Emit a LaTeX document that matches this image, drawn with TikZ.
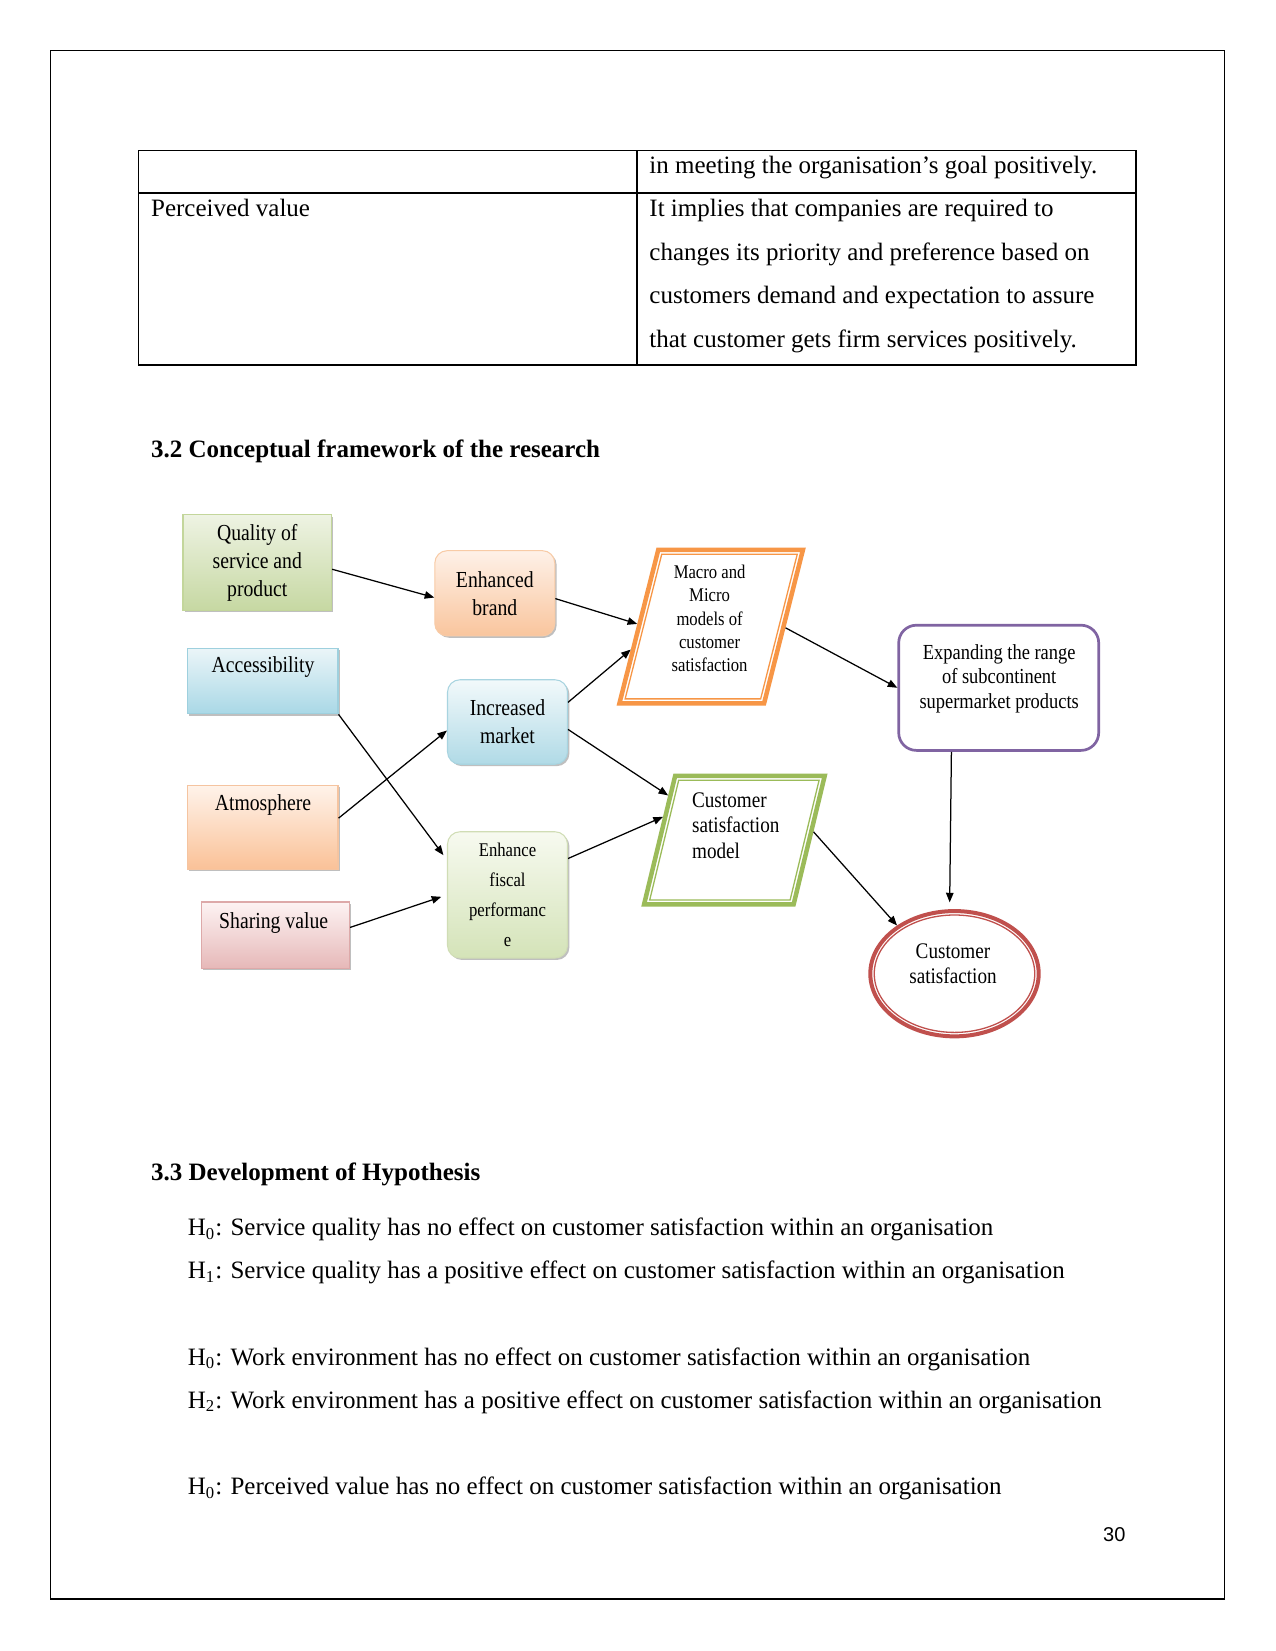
\documentclass[tikz,border=0pt]{standalone}
\usepackage{fontspec}
\setmainfont{Liberation Serif}
\newfontfamily\dfont[FakeStretch=0.86]{Liberation Serif}
\newfontfamily\pnfont{Liberation Sans}
\usetikzlibrary{shapes.geometric,arrows.meta,shadows}
\newcommand\PX{*0.48pt}
\definecolor{qtop}{HTML}{EEF3E3}\definecolor{qbot}{HTML}{C6D8A2}\definecolor{qbrd}{HTML}{C3D69B}
\definecolor{btop}{HTML}{FEF1E8}\definecolor{bbot}{HTML}{F9C59D}\definecolor{bbrd}{HTML}{F8CBA6}
\definecolor{atop}{HTML}{EAF5F8}\definecolor{abot}{HTML}{A9D8E6}\definecolor{abrd}{HTML}{9ED0DE}
\definecolor{mtop}{HTML}{F2F9FB}\definecolor{mbot}{HTML}{B0DAE6}\definecolor{mbrd}{HTML}{A8D4E0}
\definecolor{ttop}{HTML}{FFF3EA}\definecolor{tbot}{HTML}{FAC197}\definecolor{tbrd}{HTML}{F5C4A0}
\definecolor{stop}{HTML}{FDF3F3}\definecolor{sbot}{HTML}{E6B8B8}\definecolor{sbrd}{HTML}{DDA9A9}
\definecolor{ftop}{HTML}{F7FAF0}\definecolor{fbot}{HTML}{D4E3B8}\definecolor{fbrd}{HTML}{D0DDB5}
\definecolor{orangec}{HTML}{F79646}
\definecolor{greenc}{HTML}{9BBB59}
\definecolor{purplec}{HTML}{8064A2}
\definecolor{redc}{HTML}{C0504D}
\begin{document}
\begin{tikzpicture}[x=0.48pt,y=-0.48pt,
  bodytext/.style={font=\fontsize{12}{14}\selectfont, inner sep=0, anchor=base west},
  headtext/.style={font=\bfseries\fontsize{12}{14}\selectfont, inner sep=0, anchor=base west},
  boxbase/.style={inner sep=0, align=center, line width=0.5pt,
    drop shadow={shadow xshift=0.9pt, shadow yshift=-0.9pt, opacity=0.25, fill=black}},
  roundbox/.style={boxbase, rounded corners=6pt},
  dtext/.style={font=\dfont\fontsize{11}{13.4}\selectfont, align=center, inner sep=0},
  arr/.style={-{Triangle[length=4.6pt,width=3.6pt]}, line width=0.6pt, black},
  thickpara/.style={trapezium, inner sep=0, minimum width=0pt, minimum height=0pt, line width=4.5\PX},
  thinpara/.style={trapezium, inner sep=0, minimum width=0pt, minimum height=0pt, line width=1.3\PX},
]
\path[use as bounding box, fill=white] (0,0) rectangle (1275,1651);
% page frame
\draw[line width=0.7pt] (50.7,50.7) rectangle (1224.3,1599);

% table
\draw[line width=0.5pt] (138.5,150.5) rectangle (1136,365);
\draw[line width=0.5pt] (138.5,193) -- (1136,193);
\draw[line width=0.5pt] (637,150.5) -- (637,365);
\node[bodytext] (t1) at (649,174) {in meeting the organisation’s goal positively.};
\node[bodytext] (t2) at (150.7,216.7) {Perceived value};
\node[bodytext] (t3) at (649,216.7) {It implies that companies are required to};
\node[bodytext] (t4) at (649,260.9) {changes its priority and preference based on};
\node[bodytext] (t5) at (649,304) {customers demand and expectation to assure};
\node[bodytext] (t6) at (649,347.2) {that customer gets firm services positively.};

% heading
\node[headtext] (h32) at (150.7,457) {3.2 Conceptual framework of the research};

% left boxes
\node[boxbase, dtext, top color=qtop, bottom color=qbot, draw=qbrd,
  minimum width=148.6\PX, minimum height=95.8\PX] (qual) at (257.3,562.7) {Quality of\\service and\\product};
\node[boxbase, top color=atop, bottom color=abot, draw=abrd,
  minimum width=150.6\PX, minimum height=65.3\PX] (acc) at (262.7,681.2) {};
\node[dtext] (accT) at (263,667.5) {Accessibility};
\node[boxbase, top color=ttop, bottom color=tbot, draw=tbrd,
  minimum width=150.6\PX, minimum height=84.2\PX] (atm) at (262.7,827.5) {};
\node[dtext] (atmT) at (263,805.4) {Atmosphere};
\node[boxbase, top color=stop, bottom color=sbot, draw=sbrd,
  minimum width=148.5\PX, minimum height=66.6\PX] (share) at (275.3,935.3) {};
\node[dtext] (shareT) at (273.7,923.3) {Sharing value};

% middle rounded boxes
\node[roundbox, dtext, top color=btop, bottom color=bbot, draw=bbrd,
  minimum width=120\PX, minimum height=85.3\PX] (brand) at (494.8,593.3) {Enhanced\\brand};
\node[roundbox, dtext, top color=mtop, bottom color=mbot, draw=mbrd,
  minimum width=120\PX, minimum height=84.5\PX] (mkt) at (507.5,722) {Increased\\market};
\node[roundbox, dtext, font=\dfont\fontsize{9.3}{14.5}\selectfont, top color=ftop, bottom color=fbot, draw=fbrd,
  minimum width=120\PX, minimum height=126.3\PX] (fisc) at (507.5,894.9) {Enhance\\fiscal\\performanc\\e};

% parallelograms
\node[thickpara, draw=orangec, trapezium left angle=75.8, trapezium right angle=104.2,
  inner xsep=52.9\PX, inner ysep=76.75\PX] (macro) at (711.2,626.5) {};
\node[thinpara, draw=orangec, trapezium left angle=75.8, trapezium right angle=104.2,
  inner xsep=49.45\PX, inner ysep=72.35\PX] (macroin) at (macro.center) {};
\node[dtext, font=\dfont\fontsize{9.3}{11.2}\selectfont] (macroT) at (709.6,618.6)
  {Macro and\\Micro\\models of\\customer\\satisfaction};

\node[thickpara, draw=greenc, trapezium left angle=76.4, trapezium right angle=103.6,
  inner xsep=59.2\PX, inner ysep=64.35\PX] (csm) at (734.4,840.1) {};
\node[thinpara, draw=greenc, trapezium left angle=76.4, trapezium right angle=103.6,
  inner xsep=55.7\PX, inner ysep=59.95\PX] (csmin) at (csm.center) {};
\node[dtext, align=left, anchor=west, font=\dfont\fontsize{10.7}{12.2}\selectfont] (csmT) at (691.7,825.5)
  {Customer\\satisfaction\\model};

% expanding box
\node[draw=purplec, line width=2.7\PX, rounded corners=8.5pt, fill=white,
  minimum width=200\PX, minimum height=125.2\PX, inner sep=0] (exp) at (998.7,687.8) {};
\node[dtext, font=\dfont\fontsize{10.3}{11.8}\selectfont] (expT) at (999.2,678.5)
  {Expanding the range\\of subcontinent\\supermarket products};

% ellipse
\node[ellipse, draw=redc, line width=4\PX, minimum width=168.4\PX, minimum height=125.3\PX, inner sep=0] (ell) at (954.5,973.7) {};
\node[ellipse, draw=redc, line width=1.3\PX, minimum width=160.5\PX, minimum height=117.4\PX, inner sep=0] (ellin) at (ell.center) {};
\node[dtext, font=\dfont\fontsize{10.7}{12}\selectfont] (ellT) at (953,964) {Customer\\satisfaction};

% connectors
\draw[arr] (qual.-5.3) -- (brand.184.5);
\draw[arr] (brand.-5.4) -- (macro.178.4);
\draw[arr] (mkt.18.3) -- (macro.196.4);
\draw[arr] (mkt.-7.2) -- (csm.146.4);
\draw[arr, shorten >=6\PX] (acc.south east) -- (fisc.150.3);
\draw[arr] (atm.7.9) -- (mkt.188.1);
\draw[arr, shorten >=6\PX] (share.6.8) -- (fisc.west);
\draw[arr] (fisc.31.6) -- (csm.162);
\draw[arr] (macro.359) -- (exp.west);
\draw[arr, shorten >=6.7\PX] ([xshift=-47.3\PX]exp.south) -- ([xshift=-4.9\PX]ell.north);
\draw[arr] (csm.6) -- (ell.140.1);

% section 3.3
\node[headtext] (h33) at (150.7,1180) {3.3 Development of Hypothesis};
\node[bodytext] (hy1) at (187.4,1235.8) {H\textsubscript{0}: Service quality has no effect on customer satisfaction within an organisation};
\node[bodytext] (hy2) at (187.4,1278.9) {H\textsubscript{1}: Service quality has a positive effect on customer satisfaction within an organisation};
\node[bodytext] (hy3) at (187.4,1365.2) {H\textsubscript{0}: Work environment has no effect on customer satisfaction within an organisation};
\node[bodytext] (hy4) at (187.4,1408.2) {H\textsubscript{2}: Work environment has a positive effect on customer satisfaction within an organisation};
\node[bodytext] (hy5) at (187.4,1494.8) {H\textsubscript{0}: Perceived value has no effect on customer satisfaction within an organisation};

% page number
\node[font=\pnfont\fontsize{9.6}{11}\selectfont, inner sep=0, anchor=base west] (pnum) at (1102.7,1541) {30};
\end{tikzpicture}
\end{document}
